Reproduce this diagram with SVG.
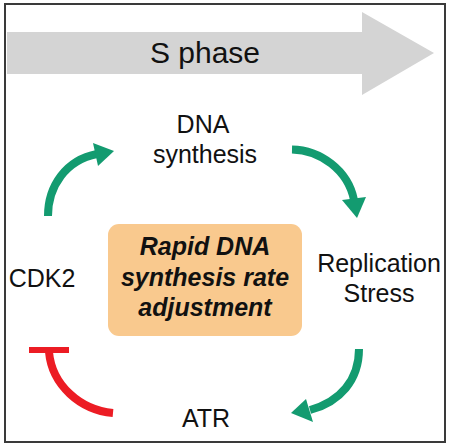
<svg xmlns="http://www.w3.org/2000/svg" width="450" height="447" viewBox="0 0 450 447">
<style>
.lbl{font-family:"Liberation Sans",Arial,sans-serif;font-size:25px;fill:#111;text-anchor:middle}
.bi{font-family:"Liberation Sans",Arial,sans-serif;font-size:25px;font-weight:bold;font-style:italic;fill:#111;text-anchor:middle}
.g{fill:none;stroke:#139b70;stroke-width:8}
.ga{fill:#139b70}
.r{fill:none;stroke:#ec1c24;stroke-width:8}
</style>
<rect x="0" y="0" width="450" height="447" fill="#fff"/>
<rect x="5" y="4" width="440" height="438" fill="#fff" stroke="#3a3a3a" stroke-width="2"/>
<g id="s-phase">
<polygon points="7,32 362,32 362,12 434,53 362,95 362,74 7,74" fill="#d4d4d4"/>
<text class="lbl" x="205" y="63" style="font-size:30px">S phase</text>
</g>
<g id="dna-synthesis">
<text class="lbl" x="203" y="133">DNA</text>
<text class="lbl" x="205" y="163">synthesis</text>
</g>
<g id="replication-stress">
<text class="lbl" x="379" y="272">Replication</text>
<text class="lbl" x="379" y="302">Stress</text>
</g>
<g id="atr">
<text class="lbl" x="206" y="427">ATR</text>
</g>
<g id="cdk2">
<text class="lbl" x="42" y="287">CDK2</text>
</g>
<g id="center-box">
<rect x="108" y="224" width="194" height="112" rx="11" fill="#f9c98e"/>
<text class="bi" x="205" y="255">Rapid DNA</text>
<text class="bi" x="205" y="286">synthesis rate</text>
<text class="bi" x="205" y="316">adjustment</text>
</g>
<g id="connectors">
<path class="g" d="M48,216 C48,186 66,160 97,154"/>
<polygon class="ga" points="93,143 114,151 98,166"/>
<path class="g" d="M292,149.5 C320,150 348,170 354,200"/>
<polygon class="ga" points="342,200 366,197 357,218"/>
<path class="g" d="M359,349 C359,380 340,402 310,410"/>
<polygon class="ga" points="306,399 291,413 313,422"/>
<path class="r" d="M49,352 C52,385 80,410 113,413"/>
<line x1="29" y1="350" x2="69" y2="350" stroke="#ec1c24" stroke-width="6"/>
</g>
</svg>
